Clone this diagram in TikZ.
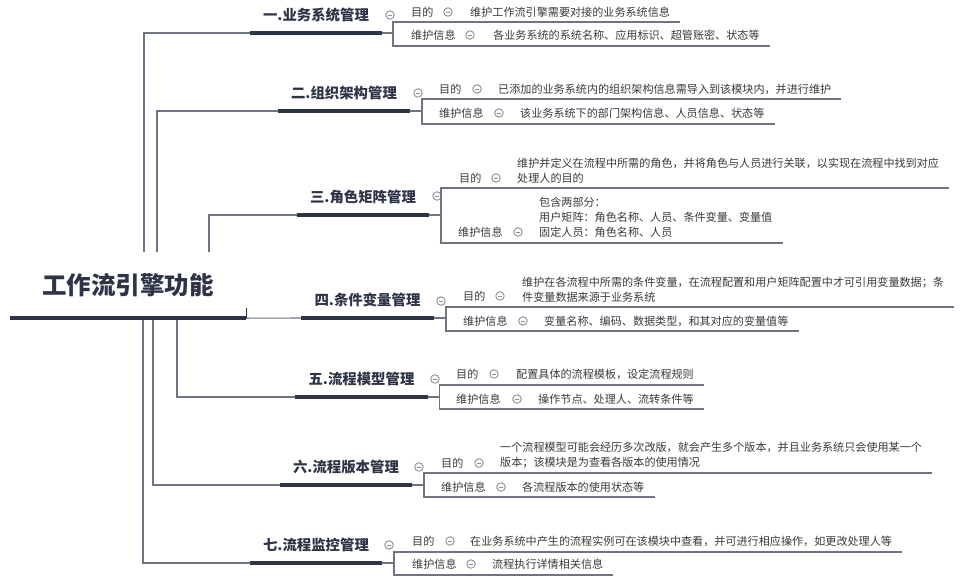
\documentclass[tikz,border=0pt]{standalone}
\usepackage{fontspec}
\setmainfont{Noto Sans CJK SC}
\usepackage{tikz}
\usetikzlibrary{positioning,%
		calc}

\definecolor{blu}{HTML}{2C3446}
\definecolor{grigio}{HTML}{6F7482}
\definecolor{testo}{HTML}{3A3A3A}
\definecolor{icona}{HTML}{8C9099}

\tikzset{filo/.style={draw=grigio, line width=1.1pt},
	spesso/.style={draw=blu, line width=3.5pt},
	radice/.style={font=\bfseries\fontsize{24.5}{28}\selectfont, text=blu, minimum width=236pt, minimum height=66pt, inner sep=0pt},
	titolo/.style={font=\bfseries\fontsize{14.4}{17}\selectfont, text=blu, minimum width=132pt, minimum height=36pt, inner sep=0pt, anchor=south},
	voce/.style={font=\fontsize{11.1}{15}\selectfont, text=testo, inner sep=0pt, anchor=west, align=left},
	meno/.style={circle, draw=icona, line width=0.9pt, minimum size=8.5pt, inner sep=0pt,
		path picture={\draw[icona, line width=0.9pt] ([xshift=-2pt]path picture bounding box.center) -- ([xshift=2pt]path picture bounding box.center);}}}

\begin{document}
\begin{tikzpicture}[x=1pt, y=-1pt]
\useasboundingbox[fill=white] (0,0) rectangle (960,582);
%radice
\node[radice] (R) at (128,285) {工作流引擎功能};
\draw[spesso] (R.south west) -- (R.south east);
\draw[blu, line width=1.2pt] (R.south east) -- ++(0,-10);
%ramo1
\node[titolo] (T1) at (316,33) {一.业务系统管理};
\node[meno] (O1) at (390,15) {};
\coordinate (G1) at (144,252);
\coordinate (P1) at (393,22);
\coordinate (Q1) at (393,46);
\node[voce] (D1) at (411,12) {目的};
\node[meno] (OD1) at (448,12) {};
\node[voce] (SD1) at (470,12) {维护工作流引擎需要对接的业务系统信息};
\node[voce] (W1) at (411,35) {维护信息};
\node[meno] (OW1) at (470,35) {};
\node[voce] (SW1) at (493,35) {各业务系统的系统名称、应用标识、超管账密、状态等};
\draw[filo] (G1) |- (T1.south west);
\draw[spesso] (T1.south west) -- (T1.south east);
\draw[filo] (T1.south east) -- (T1.south east -| P1);
\draw[filo] ([xshift=10pt]SD1.east |- P1) -- (P1) -- (Q1) -- ([xshift=10pt]SW1.east |- Q1);
%ramo2
\node[titolo] (T2) at (344,111) {二.组织架构管理};
\node[meno] (O2) at (418,93) {};
\coordinate (G2) at (157,252);
\coordinate (P2) at (422,99);
\coordinate (Q2) at (422,124);
\node[voce] (D2) at (439,89) {目的};
\node[meno] (OD2) at (477,89) {};
\node[voce] (SD2) at (498,89) {已添加的业务系统内的组织架构信息需导入到该模块内，并进行维护};
\node[voce] (W2) at (439,113) {维护信息};
\node[meno] (OW2) at (499,113) {};
\node[voce] (SW2) at (520,113) {该业务系统下的部门架构信息、人员信息、状态等};
\draw[filo] (G2) |- (T2.south west);
\draw[spesso] (T2.south west) -- (T2.south east);
\draw[filo] (T2.south east) -- (T2.south east -| P2);
\draw[filo] ([xshift=10pt]SD2.east |- P2) -- (P2) -- (Q2) -- ([xshift=10pt]SW2.east |- Q2);
%ramo3
\node[titolo] (T3) at (363,215) {三.角色矩阵管理};
\node[meno] (O3) at (437,196) {};
\coordinate (G3) at (209,252);
\coordinate (P3) at (441,188);
\coordinate (Q3) at (441,243);
\node[voce] (D3) at (459,178) {目的};
\node[meno] (OD3) at (496,178) {};
\node[voce] (SD3) at (517,170.5) {维护并定义在流程中所需的角色，并将角色与人员进行关联，以实现在流程中找到对应\\处理人的目的};
\node[voce] (W3) at (458,232) {维护信息};
\node[meno] (OW3) at (518,232) {};
\node[voce] (SW3) at (539,217) {包含两部分：\\用户矩阵：角色名称、人员、条件变量、变量值\\固定人员：角色名称、人员};
\draw[filo] (G3) |- (T3.south west);
\draw[spesso] (T3.south west) -- (T3.south east);
\draw[filo] (T3.south east) -- (T3.south east -| P3);
\draw[filo] ([xshift=10pt]SD3.east |- P3) -- (P3) -- (Q3) -- ([xshift=10pt]SW3.east |- Q3);
%ramo4
\node[titolo] (T4) at (367.5,318) {四.条件变量管理};
\node[meno] (O4) at (441,301) {};
\coordinate (P4) at (446,307);
\coordinate (Q4) at (446,331);
\node[voce] (D4) at (463,296) {目的};
\node[meno] (OD4) at (500,296) {};
\node[voce] (SD4) at (522,289.5) {维护在各流程中所需的条件变量，在流程配置和用户矩阵配置中才可引用变量数据；条\\件变量数据来源于业务系统};
\node[voce] (W4) at (463,321) {维护信息};
\node[meno] (OW4) at (523,321) {};
\node[voce] (SW4) at (544,321) {变量名称、编码、数据类型，和其对应的变量值等};
\draw[filo] (R.south east) -- (T4.south west);
\draw[spesso] (T4.south west) -- (T4.south east);
\draw[filo] (T4.south east) -- (T4.south east -| P4);
\draw[filo] ([xshift=10pt]SD4.east |- P4) -- (P4) -- (Q4) -- ([xshift=10pt]SW4.east |- Q4);
%ramo5
\node[titolo] (T5) at (361.5,397) {五.流程模型管理};
\node[meno] (O5) at (435,379) {};
\coordinate (G5) at (177,320);
\coordinate (P5) at (439.5,385);
\coordinate (Q5) at (439.5,409);
\node[voce] (D5) at (456,374) {目的};
\node[meno] (OD5) at (494,374) {};
\node[voce] (SD5) at (516,374) {配置具体的流程模板，设定流程规则};
\node[voce] (W5) at (456,399) {维护信息};
\node[meno] (OW5) at (517,399) {};
\node[voce] (SW5) at (538,399) {操作节点、处理人、流转条件等};
\draw[filo] (G5) |- (T5.south west);
\draw[spesso] (T5.south west) -- (T5.south east);
\draw[filo] (T5.south east) -- (T5.south east -| P5);
\draw[filo] ([xshift=10pt]SD5.east |- P5) -- (P5) -- (Q5) -- ([xshift=10pt]SW5.east |- Q5);
%ramo6
\node[titolo] (T6) at (346,485) {六.流程版本管理};
\node[meno] (O6) at (419,467) {};
\coordinate (G6) at (153,320);
\coordinate (P6) at (424,473);
\coordinate (Q6) at (424,497);
\node[voce] (D6) at (441,463) {目的};
\node[meno] (OD6) at (479,463) {};
\node[voce] (SD6) at (500,455.5) {一个流程模型可能会经历多次改版，就会产生多个版本，并且业务系统只会使用某一个\\版本；该模块是为查看各版本的使用情况};
\node[voce] (W6) at (441,487) {维护信息};
\node[meno] (OW6) at (501,487) {};
\node[voce] (SW6) at (522,487) {各流程版本的使用状态等};
\draw[filo] (G6) |- (T6.south west);
\draw[spesso] (T6.south west) -- (T6.south east);
\draw[filo] (T6.south east) -- (T6.south east -| P6);
\draw[filo] ([xshift=10pt]SD6.east |- P6) -- (P6) -- (Q6) -- ([xshift=10pt]SW6.east |- Q6);
%ramo7
\node[titolo] (T7) at (316,563) {七.流程监控管理};
\node[meno] (O7) at (389,545) {};
\coordinate (G7) at (143,320);
\coordinate (P7) at (394,552);
\coordinate (Q7) at (394,575);
\node[voce] (D7) at (412,541) {目的};
\node[meno] (OD7) at (450,541) {};
\node[voce] (SD7) at (470,541) {在业务系统中产生的流程实例可在该模块中查看，并可进行相应操作，如更改处理人等};
\node[voce] (W7) at (412,564) {维护信息};
\node[meno] (OW7) at (471,564) {};
\node[voce] (SW7) at (492,564) {流程执行详情相关信息};
\draw[filo] (G7) |- (T7.south west);
\draw[spesso] (T7.south west) -- (T7.south east);
\draw[filo] (T7.south east) -- (T7.south east -| P7);
\draw[filo] ([xshift=10pt]SD7.east |- P7) -- (P7) -- (Q7) -- ([xshift=10pt]SW7.east |- Q7);
\end{tikzpicture}
\end{document}
